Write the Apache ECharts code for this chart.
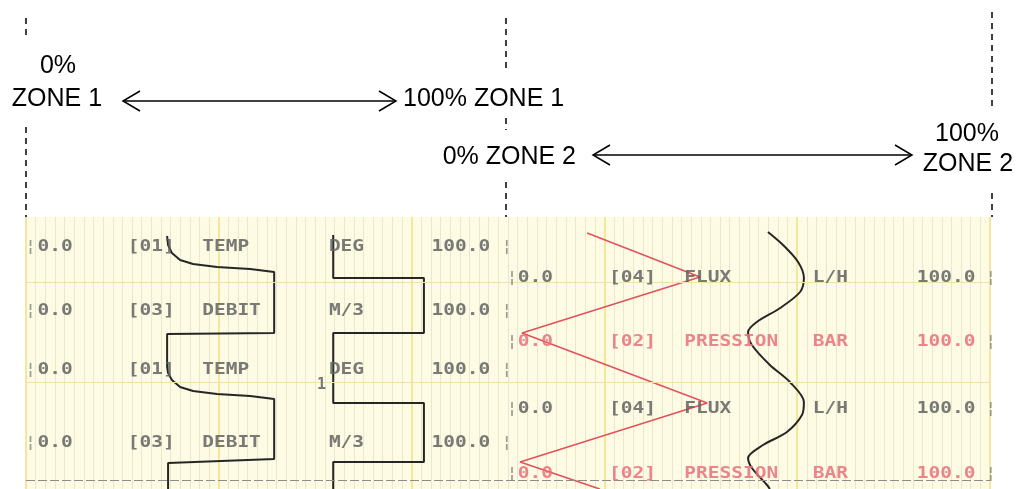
<!DOCTYPE html>
<html>
<head>
<meta charset="utf-8">
<script src="https://cdn.jsdelivr.net/npm/echarts@6/dist/echarts.min.js"></script>
<style>
  html, body { margin: 0; padding: 0; background: #fff; }
  #chart { width: 1025px; height: 489px; }
</style>
</head>
<body>
<div id="chart"></div>
<script>
// pen positions: [percent of zone, paper travel from top of strip]
const tempPen = [[29.4, 19], [29.6, 28], [30.4, 36], [32.1, 43], [34.8, 47], [39.8, 50], [46.7, 52], [51.7, 55],
  [51.7, 116], [29.4, 117], [29.4, 150], [29.6, 156], [30.4, 163], [32.1, 170], [34.8, 174], [39.8, 177],
  [46.7, 179], [51.7, 182], [51.7, 242], [29.6, 246], [29.6, 272]];
const debitPen = [[64, 18], [64, 61], [82.9, 61], [82.9, 116], [64, 116], [64, 186], [82.9, 186],
  [82.9, 245], [64, 245], [64, 272]];
const fluxPen = [[53.9, 15], [57.0, 28], [60.1, 45], [61.3, 61], [60.5, 75], [56.4, 91], [51.6, 105],
  [49.8, 115], [50.6, 128], [54.3, 148], [58.4, 165], [61.3, 185], [60.9, 198], [57.8, 215],
  [52.9, 228], [49.8, 241], [50.6, 251], [53.7, 268], [54.3, 272]];
const pressionPen = [[16.7, 16], [39.9, 60], [3.3, 116], [41.4, 186], [2.9, 245], [19.3, 272]];

// printed channel lines
const zone1Lines = [
  ['0.0', '[01]', 'TEMP', 'DEG', '100.0'],
  ['0.0', '[03]', 'DEBIT', 'M/3', '100.0'],
  ['0.0', '[01]', 'TEMP', 'DEG', '100.0'],
  ['0.0', '[03]', 'DEBIT', 'M/3', '100.0']
];
const zone1LineAt = [30, 94, 153, 226];
const zone2Lines = [
  ['0.0', '[04]', 'FLUX', 'L/H', '100.0'],
  ['0.0', '[02]', 'PRESSION', 'BAR', '100.0'],
  ['0.0', '[04]', 'FLUX', 'L/H', '100.0'],
  ['0.0', '[02]', 'PRESSION', 'BAR', '100.0']
];
const zone2LineAt = [61, 125, 192, 257];
const printColumns = [2.4, 21.2, 36.7, 63.1, 84.5];
const paperRules = [65, 165];
const tearLine = 263;

const BLACK = '#262626';
const RED = '#e2525c';
const INK = '#626262';
const RED_INK = '#e8707c';

var chart = echarts.init(document.getElementById('chart'));

var hidden = {show: false};
var option = {
  animation: false,
  backgroundColor: '#ffffff',
  grid: [
    {left: 26, top: 217, width: 964, height: 272, show: true, backgroundColor: '#fdfbe4', borderWidth: 0},
    {left: 26, top: 217, width: 480, height: 272},
    {left: 506, top: 217, width: 486, height: 272}
  ],
  xAxis: [
    {
      gridIndex: 0, type: 'value', min: 0, max: 100, interval: 20,
      axisLine: hidden, axisTick: hidden, axisLabel: hidden,
      splitLine: {show: true, lineStyle: {color: '#f0df86', width: 1.5}},
      minorTick: {show: false, splitNumber: 20},
      minorSplitLine: {show: true, lineStyle: {color: '#ebe7cc', width: 1}}
    },
    {gridIndex: 1, type: 'value', min: 0, max: 100, show: false},
    {gridIndex: 2, type: 'value', min: 0, max: 100, show: false}
  ],
  yAxis: [
    {gridIndex: 0, type: 'value', min: 0, max: 272, inverse: true, show: false},
    {gridIndex: 1, type: 'value', min: 0, max: 272, inverse: true, show: false},
    {gridIndex: 2, type: 'value', min: 0, max: 272, inverse: true, show: false}
  ],
  series: [
    {
      name: 'paper', type: 'line', xAxisIndex: 0, yAxisIndex: 0, data: [], silent: true,
      markLine: {
        symbol: 'none', silent: true, label: {show: false},
        data: paperRules.map(function (v) {
          return {yAxis: v, lineStyle: {color: '#ebe3a8', width: 1, type: 'solid'}};
        }).concat([{yAxis: tearLine, lineStyle: {color: '#8c8c8c', width: 1, type: [9, 3]}}])
      }
    },
    {
      name: 'TEMP', type: 'line', xAxisIndex: 1, yAxisIndex: 1, data: tempPen,
      symbol: 'none', lineStyle: {color: BLACK, width: 2}
    },
    {
      name: 'DEBIT', type: 'line', xAxisIndex: 1, yAxisIndex: 1, data: debitPen,
      symbol: 'none', lineStyle: {color: BLACK, width: 2}
    },
    {
      name: 'FLUX', type: 'line', xAxisIndex: 2, yAxisIndex: 2, data: fluxPen,
      symbol: 'none', smooth: 0.3, smoothMonotone: 'none', lineStyle: {color: BLACK, width: 2}
    },
    {
      name: 'PRESSION', type: 'line', xAxisIndex: 2, yAxisIndex: 2, data: pressionPen,
      symbol: 'none', lineStyle: {color: RED, width: 1.6}
    }
  ]
};
chart.setOption(option);

// ---- annotations ----
var els = [];
var LABEL_FONT = '25px "Liberation Sans", Arial, sans-serif';

function label(txt, x, y, align) {
  els.push({
    type: 'text', x: x, y: y, z: 20,
    style: {text: txt, font: LABEL_FONT, fill: '#000', align: align, textAlign: align,
      verticalAlign: 'middle', textVerticalAlign: 'middle'}
  });
}
function dashed(x, y1, y2) {
  els.push({
    type: 'line', z: 20, shape: {x1: x, y1: y1, x2: x, y2: y2},
    style: {stroke: '#000', lineWidth: 1.5, lineDash: [6, 5]}
  });
}
function arrow(x1, x2, y) {
  els.push({type: 'line', z: 20, shape: {x1: x1, y1: y, x2: x2, y2: y}, style: {stroke: '#000', lineWidth: 1.5}});
  els.push({type: 'polyline', z: 20, shape: {points: [[x1 + 17, y - 10], [x1, y], [x1 + 17, y + 10]]},
    style: {stroke: '#000', lineWidth: 1.5, fill: null}});
  els.push({type: 'polyline', z: 20, shape: {points: [[x2 - 17, y - 10], [x2, y], [x2 - 17, y + 10]]},
    style: {stroke: '#000', lineWidth: 1.5, fill: null}});
}

dashed(26, 18, 36); dashed(26, 127, 217);
dashed(506, 18, 73); dashed(506, 118, 130); dashed(506, 182, 217);
dashed(992, 12, 109); dashed(992, 193, 217);

label('0%', 58, 66, 'center');
label('ZONE 1', 57, 99, 'center');
arrow(123, 396, 101);
label('100% ZONE 1', 403, 99, 'left');
label('0% ZONE 2', 576, 157, 'right');
arrow(593, 912, 155);
label('100%', 967, 134, 'center');
label('ZONE 2', 968, 164, 'center');

// dot-matrix printout on the paper
var PRINT_FONT = 'bold 15px "DejaVu Sans Mono", monospace';
function printText(txt, gridIndex, pct, t, color, sx) {
  var p = chart.convertToPixel({gridIndex: gridIndex}, [pct, t]);
  els.push({
    type: 'text', x: p[0], y: p[1], z: 15, scaleX: sx || 1.3,
    style: {text: txt, font: PRINT_FONT, fill: color, opacity: 0.85, align: 'left', textAlign: 'left',
      verticalAlign: 'middle', textVerticalAlign: 'middle'}
  });
}
zone1Lines.forEach(function (row, i) {
  row.forEach(function (txt, j) { printText(txt, 1, printColumns[j], zone1LineAt[i], INK); });
  printText('¦', 1, 0, zone1LineAt[i], '#8a8a8a', 1);
  printText('¦', 1, 99.2, zone1LineAt[i], '#8a8a8a', 1);
});
zone2Lines.forEach(function (row, i) {
  var c = i % 2 === 1 ? RED_INK : INK;
  row.forEach(function (txt, j) { printText(txt, 2, printColumns[j], zone2LineAt[i], c); });
  printText('¦', 2, 0.3, zone2LineAt[i], '#8a8a8a', 1);
  printText('¦', 2, 98.8, zone2LineAt[i], '#8a8a8a', 1);
});
printText('1', 1, 60.6, 168, INK, 1);

chart.setOption({graphic: {elements: els}});
</script>
</body>
</html>
